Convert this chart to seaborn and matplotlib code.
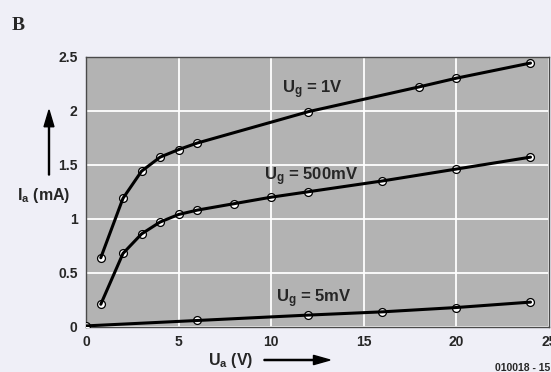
import pandas as pd
import matplotlib
matplotlib.use("Agg")
import matplotlib.pyplot as plt
import seaborn as sns

# Valeurs
ua_1v = [0.8, 2, 3, 4, 5, 6, 12, 18, 20, 24]
ia_1v = [0.64, 1.19, 1.44, 1.57, 1.64, 1.70, 1.99, 2.22, 2.30, 2.44]

ua_500mv = [0.8, 2, 3, 4, 5, 6, 8, 10, 12, 16, 20, 24]
ia_500mv = [0.21, 0.68, 0.86, 0.97, 1.04, 1.08, 1.14, 1.20, 1.25, 1.35, 1.46, 1.57]

ua_5mv = [0, 6, 12, 16, 20, 24]
ia_5mv = [0.01, 0.06, 0.11, 0.14, 0.18, 0.23]

x_ticks = [0, 5, 10, 15, 20, 25]
y_ticks = [0, 0.5, 1, 1.5, 2, 2.5]
y_tick_labels = ["0", "0.5", "1", "1.5", "2", "2.5"]

df = pd.concat([
    pd.DataFrame({"Ua": ua_1v, "Ia": ia_1v, "Ug": "1V"}),
    pd.DataFrame({"Ua": ua_500mv, "Ia": ia_500mv, "Ug": "500mV"}),
    pd.DataFrame({"Ua": ua_5mv, "Ia": ia_5mv, "Ug": "5mV"}),
])

sns.set_style("whitegrid", {
    "axes.facecolor": "#b3b3b3",
    "figure.facecolor": "#efeff7",
    "grid.color": "white",
    "axes.edgecolor": "#4a4a4a",
})
plt.rcParams["font.family"] = ["Liberation Sans", "DejaVu Sans"]
plt.rcParams["font.weight"] = "bold"
plt.rcParams["mathtext.fontset"] = "custom"
plt.rcParams["mathtext.bf"] = "Liberation Sans:bold"
plt.rcParams["mathtext.rm"] = "Liberation Sans:bold"

fig = plt.figure(figsize=(5.51, 3.72), dpi=100)
ax = fig.add_axes([0.156, 0.121, 0.8404, 0.727])

sns.scatterplot(data=df, x="Ua", y="Ia", ax=ax, color="white", edgecolor="black",
                linewidth=0.9, s=32, zorder=3, legend=False)
sns.lineplot(data=df, x="Ua", y="Ia", units="Ug", estimator=None, sort=False,
             color="black", linewidth=2.2, ax=ax, zorder=4, legend=False)

ax.set_xlim(0, 25)
ax.set_ylim(0, 2.5)
ax.set_xticks(x_ticks)
ax.set_yticks(y_ticks)
ax.set_yticklabels(y_tick_labels)
ax.grid(True, color="white", linewidth=1.3)
ax.tick_params(length=0, labelsize=10, pad=6)
for lab in ax.get_xticklabels() + ax.get_yticklabels():
    lab.set_fontweight("bold")
for sp in ax.spines.values():
    sp.set_linewidth(1.0)
ax.set_xlabel("")
ax.set_ylabel("")

# étiquettes des courbes
ax.text(10.6, 2.16, r"$\mathbf{U_g}$ = 1V", fontsize=12, fontweight="bold")
ax.text(9.6, 1.36, r"$\mathbf{U_g}$ = 500mV", fontsize=12, fontweight="bold")
ax.text(10.25, 0.23, r"$\mathbf{U_g}$ = 5mV", fontsize=12, fontweight="bold")

fig.text(0.022, 0.919, "B", fontsize=14, fontweight="bold", family="Liberation Serif")
fig.text(0.03, 0.462, r"$\mathbf{I_a}$ (mA)", fontsize=11.5, fontweight="bold")
fig.text(0.378, 0.018, r"$\mathbf{U_a}$ (V)", fontsize=11.5, fontweight="bold")
fig.text(0.999, 0.004, "010018 - 15", fontsize=7.5, fontweight="bold", ha="right")

fig.patches.append(matplotlib.patches.FancyArrow(
    49 / 551, 1 - 175 / 372, 0, 65 / 372, width=0.0018, head_width=0.018,
    head_length=0.045, length_includes_head=True, color="black",
    transform=fig.transFigure, figure=fig))
fig.patches.append(matplotlib.patches.FancyArrow(
    264 / 551, 1 - 360 / 372, 66 / 551, 0, width=0.003, head_width=0.025,
    head_length=0.03, length_includes_head=True, color="black",
    transform=fig.transFigure, figure=fig))

plt.savefig("out.png", dpi=100, facecolor=fig.get_facecolor())
